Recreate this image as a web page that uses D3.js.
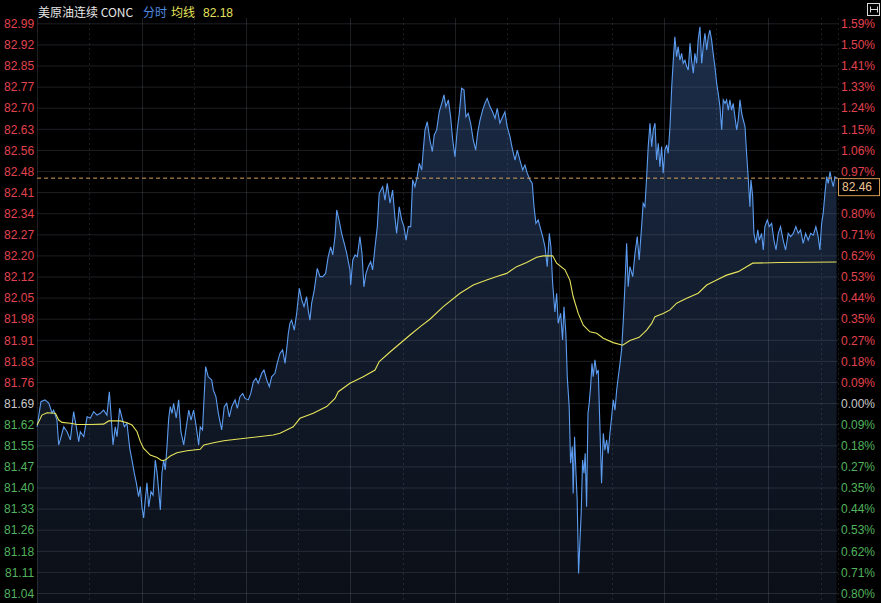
<!DOCTYPE html>
<html><head><meta charset="utf-8">
<script src="https://cdn.jsdelivr.net/npm/d3@7"></script>
<style>html,body{margin:0;padding:0;background:#000;overflow:hidden}</style>
</head><body><svg id="c" width="881" height="603"></svg>
<script>
const titleText = "美原油连续 CONC";
const legendLine = "分时";
const legendAvg = "均线";
const avgLastText = "82.18";
const lastPrice = 82.46;
const leftLabels = ["82.99","82.92","82.85","82.77","82.70","82.63","82.56","82.48","82.41","82.34","82.27","82.20","82.12","82.05","81.98","81.91","81.83","81.76","81.69","81.62","81.55","81.47","81.40","81.33","81.26","81.18","81.11","81.04"];
const rightLabels = ["1.59%","1.50%","1.41%","1.33%","1.24%","1.15%","1.06%","0.97%","0.88%","0.80%","0.71%","0.62%","0.53%","0.44%","0.35%","0.27%","0.18%","0.09%","0.00%","0.09%","0.18%","0.27%","0.35%","0.44%","0.53%","0.62%","0.71%","0.80%"];
const basePrice = 81.69, topPrice = 82.99, bottomPrice = 81.04;
const totalMinutes = 460;
// [minute, price]
const priceSeries = [[0,81.609],[2.2,81.695],[4.5,81.701],[6.7,81.690],[8.6,81.656],[9.5,81.666],[11.4,81.632],[12.4,81.547],[13.3,81.564],[15.3,81.609],
[17.2,81.592],[19.1,81.564],[21.0,81.661],[22.5,81.609],[23.9,81.558],[24.8,81.592],[26.8,81.575],[28.7,81.643],[30.6,81.639],[32.5,81.661],
[34.4,81.649],[36.3,81.655],[38.2,81.666],[40.1,81.649],[41.5,81.729],[42.4,81.655],[43.6,81.547],[44.9,81.609],[45.9,81.575],[47.4,81.672],
[48.8,81.639],[50.1,81.609],[51.6,81.621],[53.2,81.536],[54.5,81.495],[55.8,81.451],[57.0,81.417],[58.3,81.370],[59.3,81.404],[60.2,81.335],
[61.2,81.297],[62.1,81.358],[63.1,81.417],[64.1,81.335],[65.4,81.387],[66.6,81.375],[67.9,81.495],[68.9,81.451],[69.8,81.393],[70.8,81.324],
[71.7,81.451],[72.7,81.495],[73.6,81.461],[74.6,81.541],[75.6,81.639],[76.5,81.678],[77.5,81.655],[78.4,81.689],[79.9,81.639],[81.3,81.701],
[82.6,81.592],[84.2,81.547],[85.7,81.609],[87.1,81.666],[88.4,81.632],[89.9,81.666],[91.4,81.609],[92.8,81.547],[93.7,81.609],[95.0,81.598],
[96.8,81.815],[98.3,81.780],[100.3,81.769],[101.2,81.735],[102.7,81.712],[104.1,81.655],[106.0,81.598],[107.5,81.678],[108.9,81.689],[110.4,81.643],
[111.8,81.678],[113.7,81.701],[115.0,81.672],[116.5,81.712],[118.1,81.723],[119.4,81.706],[121.3,81.701],[122.7,81.723],[124.2,81.763],[125.7,81.775],
[127.0,81.758],[129.0,81.792],[130.3,81.803],[131.9,81.769],[133.4,81.746],[134.7,81.780],[136.6,81.792],[137.9,81.826],[139.5,81.860],[141.0,81.872],
[142.4,81.826],[143.3,81.872],[144.3,81.929],[145.2,81.963],[146.2,81.974],[147.7,81.940],[149.1,81.997],[150.6,82.083],[152.0,82.043],[153.3,82.020],
[154.8,82.054],[155.7,82.009],[156.7,81.974],[157.7,82.032],[159.2,82.077],[160.9,82.151],[162.5,82.123],[164.0,82.123],[165.7,82.134],[167.2,82.191],
[168.6,82.225],[169.8,82.197],[171.1,82.260],[172.1,82.351],[173.6,82.311],[174.9,82.271],[176.4,82.237],[177.8,82.203],[179.7,82.146],[180.1,82.094],
[181.3,82.180],[182.6,82.197],[183.9,82.191],[185.4,82.260],[186.6,82.203],[187.7,82.088],[188.9,82.134],[190.2,82.157],[191.6,82.174],[192.7,82.146],
[194.1,82.225],[195.4,82.294],[196.5,82.408],[198.5,82.431],[199.8,82.385],[201.1,82.442],[202.7,82.374],[204.2,82.419],[205.5,82.328],[206.5,82.271],
[208.0,82.362],[209.4,82.317],[210.7,82.294],[211.9,82.248],[213.2,82.294],[214.6,82.294],[215.7,82.454],[217.0,82.431],[218.3,82.465],[219.5,82.511],
[220.9,82.488],[221.8,82.556],[222.8,82.625],[224.1,82.653],[225.6,82.591],[227.0,82.551],[228.1,82.608],[229.5,82.625],[231.0,82.688],[232.4,82.716],
[233.7,82.745],[234.8,82.705],[236.2,82.728],[237.5,82.670],[238.7,82.591],[240.0,82.533],[241.3,82.625],[242.5,82.682],[243.8,82.768],[245.2,82.762],
[246.3,82.670],[247.6,82.682],[249.0,82.648],[250.5,82.591],[251.9,82.556],[253.0,82.614],[254.4,82.659],[255.9,82.693],[257.2,82.716],[258.5,82.733],
[260.1,82.705],[261.6,82.687],[263.0,82.665],[264.3,82.699],[265.8,82.648],[267.4,82.670],[268.7,82.687],[270.0,82.636],[271.6,82.602],[272.9,82.562],
[274.5,82.522],[275.8,82.556],[277.3,82.522],[278.9,82.488],[280.2,82.505],[281.5,82.477],[283.1,82.454],[284.4,82.442],[285.4,82.362],[286.5,82.305],
[287.8,82.317],[288.8,82.294],[290.4,82.260],[291.7,82.225],[293.0,82.157],[294.2,82.271],[295.1,82.225],[296.1,82.100],[297.4,82.002],[298.4,82.066],
[299.3,81.963],[300.7,81.997],[301.8,81.906],[302.6,82.020],[303.7,81.929],[304.5,81.780],[305.6,81.678],[306.4,81.484],[307.4,81.541],[307.9,81.381],
[308.7,81.575],[309.5,81.450],[310.2,81.358],[311.0,81.107],[311.8,81.221],[312.5,81.313],[313.3,81.495],[314.1,81.450],[314.8,81.518],[315.6,81.335],
[316.4,81.655],[317.1,81.689],[317.9,81.746],[318.7,81.826],[319.4,81.780],[320.4,81.838],[321.4,81.792],[322.3,81.803],[323.3,81.598],[324.2,81.416],
[325.2,81.587],[326.1,81.529],[327.1,81.564],[328.0,81.518],[329.0,81.587],[330.0,81.643],[330.9,81.701],[331.9,81.666],[332.9,81.735],[333.8,81.780],
[334.8,81.826],[335.7,81.872],[336.7,81.974],[337.6,82.088],[338.6,82.237],[339.5,82.088],[340.5,82.157],[342.1,82.123],[343.4,82.203],[344.7,82.260],
[345.8,82.180],[347.2,82.294],[348.1,82.374],[349.1,82.362],[350.1,82.465],[351.0,82.568],[352.0,82.648],[353.0,82.568],[353.9,82.625],[354.9,82.648],
[355.8,82.522],[356.8,82.579],[357.7,82.499],[358.7,82.568],[359.6,82.477],[360.6,82.556],[361.6,82.574],[362.5,82.545],[363.5,82.636],[364.5,82.773],
[365.4,82.864],[366.3,82.944],[367.3,82.876],[368.2,82.910],[369.2,82.864],[370.2,82.887],[371.1,82.853],[372.1,82.864],[373.1,82.842],[374.0,82.830],
[375.0,82.922],[375.9,82.864],[376.9,82.819],[377.8,82.887],[378.8,82.853],[379.7,82.933],[380.7,82.978],[381.7,82.853],[382.6,82.910],[383.6,82.956],
[384.6,82.899],[385.5,82.944],[386.4,82.967],[387.4,82.933],[388.3,82.887],[389.3,82.842],[390.3,82.785],[391.2,82.750],[392.2,82.705],[393.2,82.625],
[394.1,82.728],[395.1,82.716],[396.0,82.728],[397.0,82.693],[397.9,82.728],[398.9,82.693],[399.8,82.716],[400.8,82.670],[401.8,82.625],[402.7,82.659],
[403.7,82.728],[404.7,82.682],[405.6,82.659],[406.6,82.636],[407.5,82.545],[408.4,82.465],[409.4,82.362],[410.0,82.454],[411.0,82.397],[411.7,82.271],
[412.9,82.237],[413.9,82.283],[414.8,82.248],[416.1,82.271],[417.1,82.214],[418.0,82.294],[419.4,82.317],[420.5,82.294],[421.9,82.305],[423.2,82.248],
[424.4,82.214],[425.7,82.271],[427.0,82.294],[428.5,82.248],[429.9,82.214],[431.4,82.271],[432.8,82.260],[434.3,82.271],[435.8,82.294],[437.2,82.271],
[438.5,82.283],[440.0,82.237],[441.4,82.271],[442.9,82.248],[444.3,82.271],[445.8,82.265],[447.3,82.294],[448.6,82.260],[449.6,82.214],[450.6,82.305],
[451.5,82.340],[452.5,82.408],[453.5,82.465],[454.4,82.442],[455.4,82.482],[456.3,82.454],[457.3,82.431],[458.2,82.465],[459.2,82.460]];
const avgSeries = [[0,81.615],[2.8,81.649],[5.7,81.657],[10.5,81.655],[12.4,81.632],[14.3,81.624],[19.1,81.621],[22.9,81.617],[30.6,81.617],[38.2,81.618],
[41.1,81.629],[47.8,81.629],[51.6,81.623],[54.5,81.615],[57.4,81.592],[59.3,81.558],[61.2,81.535],[65.0,81.512],[68.9,81.504],[71.7,81.493],
[73.6,81.495],[76.5,81.509],[80.3,81.520],[86.1,81.527],[93.7,81.532],[95.8,81.547],[101.4,81.554],[107.2,81.561],[114.4,81.566],[135.6,81.581],
[139.5,81.587],[147.1,81.609],[151.0,81.638],[158.6,81.655],[166.3,81.678],[171.1,81.706],[173.0,81.729],[179.7,81.758],[187.3,81.780],[194.1,81.803],
[196.5,81.832],[202.7,81.865],[214.2,81.923],[219.9,81.951],[225.6,81.977],[233.3,82.020],[242.9,82.066],[250.5,82.094],[258.2,82.111],[264.0,82.123],
[269.7,82.134],[275.4,82.157],[281.2,82.171],[286.9,82.189],[290.7,82.194],[296.1,82.194],[298.4,82.169],[303.2,82.146],[306.0,82.111],[307.9,82.054],
[310.8,81.997],[313.7,81.957],[317.5,81.934],[321.4,81.929],[325.2,81.912],[330.9,81.897],[336.3,81.888],[340.5,81.904],[345.8,81.915],[350.1,81.940],
[353.0,81.963],[354.9,81.986],[359.6,81.997],[363.5,82.009],[367.3,82.032],[373.1,82.049],[379.7,82.066],[384.6,82.094],[390.3,82.111],[396.0,82.128],
[402.7,82.140],[407.5,82.157],[411.0,82.169],[426.6,82.171],[459.2,82.173]];

const W = 881, H = 603;
const L = 37.1, R = 838, T = 23.3, B = 593;
const svg = d3.select("#c");
const x = d3.scaleLinear().domain([0, totalMinutes]).range([L, R]);
const y = d3.scaleLinear().domain([bottomPrice, topPrice]).range([B, T]);
const step = (topPrice - basePrice) / 18;
const tickVals = leftLabels.map((_, i) => topPrice - i * step);

const RED = "#e0434f", GREEN = "#52b35e", GRAY = "#c9c9c9";
const labelColor = (i) => { const v = tickVals[i]; return Math.abs(v - basePrice) < 1e-6 ? GRAY : (v > basePrice ? RED : GREEN); };

svg.append("rect").attr("width", W).attr("height", H).attr("fill", "#000");

const defs = svg.append("defs");
const grad = defs.append("linearGradient").attr("id", "fillg").attr("gradientUnits", "userSpaceOnUse")
  .attr("x1", 0).attr("x2", 0).attr("y1", 20).attr("y2", H);
grad.append("stop").attr("offset", 0).attr("stop-color", "#1c2e4b");
grad.append("stop").attr("offset", 0.55).attr("stop-color", "#121b2b");
grad.append("stop").attr("offset", 1).attr("stop-color", "#0b0f17");

const area = d3.area().x(d => x(d[0])).y0(H).y1(d => y(d[1]));
svg.append("path").datum(priceSeries).attr("d", area).attr("fill", "url(#fillg)");

const gGrid = svg.append("g").attr("transform", `translate(${L},0)`)
  .call(d3.axisRight(y).tickValues(tickVals).tickSize(R - L).tickFormat(""));
gGrid.select(".domain").remove();
gGrid.selectAll("line").attr("stroke", "rgba(130,140,160,0.22)").attr("stroke-width", 1);

const solidV = d3.range(0, totalMinutes, 60);
const dashV = d3.range(30, totalMinutes, 60).concat([totalMinutes]);
const gV = svg.append("g");
gV.selectAll("line.s").data(solidV).enter().append("line")
  .attr("x1", d => Math.round(x(d)) + 0.5).attr("x2", d => Math.round(x(d)) + 0.5)
  .attr("y1", 18).attr("y2", H).attr("stroke", "rgba(130,140,160,0.22)");
gV.selectAll("line.d").data(dashV).enter().append("line")
  .attr("x1", d => Math.round(x(d)) + 0.5).attr("x2", d => Math.round(x(d)) + 0.5)
  .attr("y1", 18).attr("y2", H).attr("stroke", "rgba(130,140,160,0.2)").attr("stroke-dasharray", "2,3");

const line = d3.line().x(d => x(d[0])).y(d => y(d[1]));
svg.append("path").datum(priceSeries).attr("d", line).attr("fill", "none")
  .attr("stroke", "#5c9cf0").attr("stroke-width", 1.1);
svg.append("path").datum(avgSeries).attr("d", line).attr("fill", "none")
  .attr("stroke", "#e6e35c").attr("stroke-width", 1.1);

const ly = y(lastPrice);
svg.append("line").attr("x1", L).attr("x2", R).attr("y1", ly).attr("y2", ly)
  .attr("stroke", "#d9a25c").attr("stroke-width", 1).attr("stroke-dasharray", "4,3");

const font = "'Liberation Sans', Arial, 'Noto Sans CJK SC', sans-serif";
const gL = svg.append("g").attr("transform", `translate(${L - 3},0)`)
  .call(d3.axisLeft(y).tickValues(tickVals).tickSize(0).tickFormat((d, i) => leftLabels[i]));
gL.select(".domain").remove();
gL.selectAll("text").attr("font-family", font).attr("font-size", 12)
  .attr("fill", (d, i) => labelColor(i)).attr("x", 0).attr("dy", "0.35em");

// right labels: the one hidden under the last-price box is not drawn (as in the reference)
const boxTop = ly, boxBot = ly + 17;
const rightVisible = tickVals.filter(v => { const yy = y(v); return yy + 6 < boxTop || yy - 6 > boxBot; });
const gR = svg.append("g").attr("transform", `translate(${R + 3},0)`)
  .call(d3.axisRight(y).tickValues(rightVisible).tickSize(0).tickFormat(d => rightLabels[tickVals.indexOf(d)]));
gR.select(".domain").remove();
gR.selectAll("text").attr("font-family", font).attr("font-size", 12)
  .attr("fill", d => labelColor(tickVals.indexOf(d))).attr("x", 0).attr("dy", "0.35em");

svg.append("rect").attr("x", R + 0.5).attr("y", ly + 0.5).attr("width", 41).attr("height", 17)
  .attr("fill", "#000").attr("stroke", "#d39a52");
svg.append("text").attr("x", R + 4).attr("y", ly + 13).attr("font-family", font).attr("font-size", 12)
  .attr("fill", "#f0c493").text(lastPrice.toFixed(2));

const hdr = svg.append("text").attr("x", 38).attr("y", 17).attr("font-family", "'Noto Sans CJK SC', 'Liberation Sans', sans-serif").attr("font-size", 12);
hdr.append("tspan").attr("fill", "#e6e6e6").text(titleText);
hdr.append("tspan").attr("x", 143).attr("fill", "#4f8be0").text(legendLine);
hdr.append("tspan").attr("x", 171).attr("fill", "#e6e35c").text(legendAvg);
hdr.append("tspan").attr("x", 203).attr("fill", "#e6e35c").attr("font-family", font).text(avgLastText);

svg.append("rect").attr("x", 867.5).attr("y", 3.5).attr("width", 12).attr("height", 12).attr("fill", "none").attr("stroke", "#d8d8d8");
svg.append("path").attr("d", "M870.5,6.5 V12.5 M870.5,9.5 H877.5 M877.5,6.5 V12.5").attr("fill", "none").attr("stroke", "#d8d8d8");
</script></body></html>
